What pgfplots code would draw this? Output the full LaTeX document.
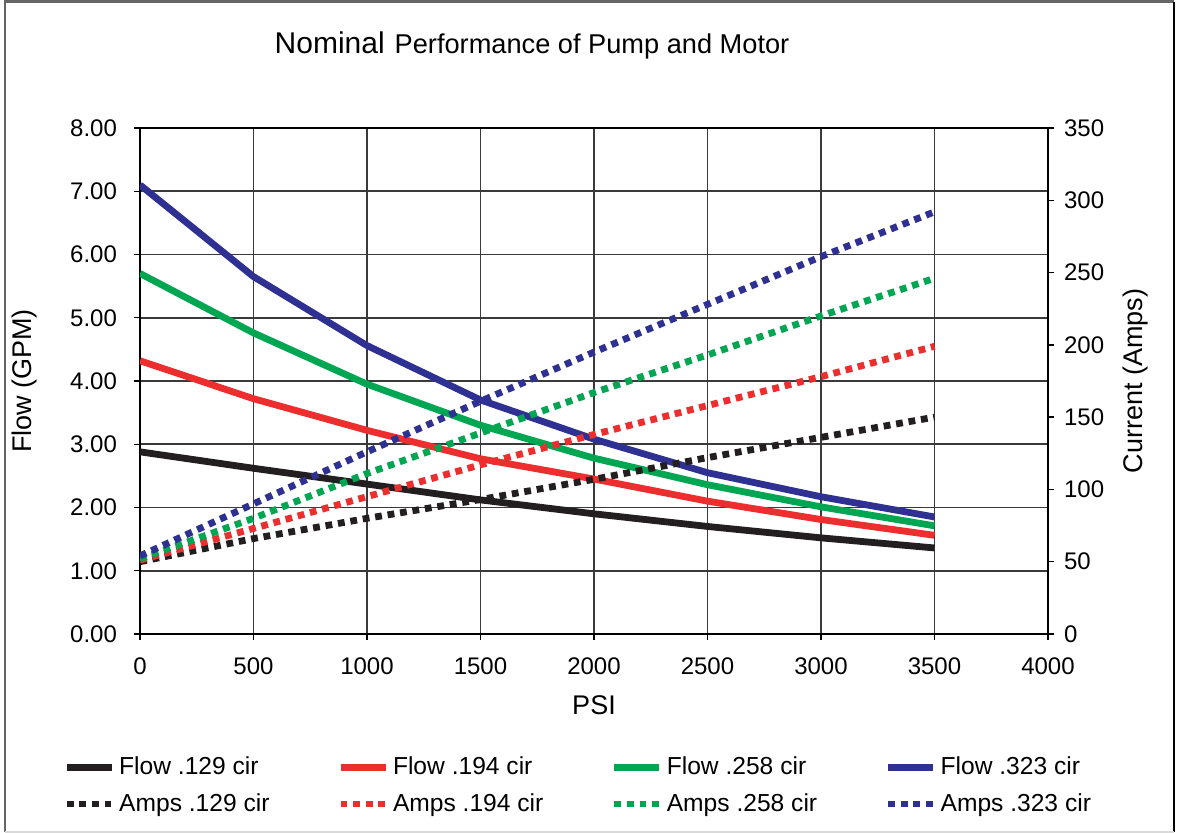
\documentclass[border=0pt]{standalone}
\usepackage{fontspec}
\setmainfont{Liberation Sans}
\usepackage{pgfplots}
\usepackage{pgfplotstable}
\pgfplotsset{compat=1.18}
\definecolor{cblack}{HTML}{231F20}
\definecolor{cred}{HTML}{ED2E2F}
\definecolor{cgreen}{HTML}{00A651}
\definecolor{cblue}{HTML}{2E3192}
\definecolor{gridc}{HTML}{3A3A3A}

\pgfplotstableread{
psi  f129 f194 f258 f323 a129 a194 a258 a323
0    2.88 4.32 5.70 7.10 50  51  52  54
500  2.62 3.72 4.76 5.65 66  73  80  90
1000 2.37 3.22 3.95 4.56 80  95  111 126
1500 2.12 2.77 3.30 3.70 93  117 139 161
2000 1.90 2.45 2.78 3.08 107 138 167 195
2500 1.70 2.10 2.36 2.55 122 158 193 228
3000 1.52 1.81 2.01 2.17 136 178 220 261
3500 1.36 1.56 1.71 1.85 150 199 246 292
}\data

\pgfplotsset{
  common/.style={
    at={(70pt,99.5pt)}, anchor=south west,
    scale only axis, width=454pt, height=253pt,
    xmin=0, xmax=4000,
    font=\fontsize{12}{14}\selectfont,
    /pgf/number format/assume math mode=true,
    /pgf/number format/1000 sep={},
    tick align=outside,
    major tick length=3pt,
    tick style={black, line width=0.7pt},
    axis line style={black, line width=0.8pt},
  },
  flow/.style={line width=3.4pt, no markers},
  amps/.style={line width=3.4pt, no markers, dash pattern=on 3.4pt off 2.9pt},
}

\begin{document}
\begin{tikzpicture}
\useasboundingbox (0,0) rectangle (589pt,416.5pt);
\draw[gray!80!black, line width=1.3pt] (2.5pt,0.5pt) -- (2.5pt,415.6pt) -- (587pt,415.6pt);
\draw[black, line width=1.2pt] (587pt,415.6pt) -- (587pt,0.5pt);
\draw[gray!30, line width=1.2pt] (2.5pt,0.6pt) -- (587pt,0.6pt);
\node[anchor=center] at (266pt,394pt)
  {{\fontsize{15}{17}\selectfont Nominal}\hspace{5pt}{\fontsize{13.6}{16}\selectfont Performance of Pump and Motor}};

\begin{axis}[common,
  ymin=0, ymax=8,
  xtick={0,500,...,4000},
  ytick={0,1,...,8},
  grid=major,
  grid style={gridc, line width=0.85pt},
  tick pos=left,
  yticklabel style={/pgf/number format/fixed, /pgf/number format/fixed zerofill, /pgf/number format/precision=2, xshift=-5pt},
  xticklabel style={yshift=-5.5pt},
  xlabel={PSI},
  ylabel={Flow (GPM)},
  label style={font=\fontsize{13.5}{15}\selectfont},
  xlabel style={at={(axis description cs:0.5,-0.1403)}, anchor=center},
  ylabel style={at={(axis description cs:-0.1267,0.5)}, anchor=center},
]
\addplot[flow, cblack] table[x=psi, y=f129]{\data};
\addplot[flow, cred]   table[x=psi, y=f194]{\data};
\addplot[flow, cgreen] table[x=psi, y=f258]{\data};
\addplot[flow, cblue]  table[x=psi, y=f323]{\data};
\end{axis}

\begin{axis}[common,
  ymin=0, ymax=350,
  ytick={0,50,...,350},
  axis y line*=right,
  axis x line=none,
  yticklabel style={xshift=1.5pt},
  ylabel={Current (Amps)},
  label style={font=\fontsize{13.5}{15}\selectfont},
  ylabel style={at={(axis description cs:1.0969,0.5)}, anchor=center},
  legend columns=4,
  legend cell align=left,
  legend image code/.code={\draw[#1] (0pt,0pt) -- (22.5pt,0pt);},
  legend style={draw=none, fill=none, at={(axis description cs:-0.0848,-0.226)}, anchor=north west,
    column sep=0pt, row sep=4pt, font=\fontsize{12.3}{14}\selectfont, inner xsep=0pt},
]
\addlegendimage{flow, cblack}\addlegendentry{\makebox[107pt][l]{Flow .129 cir}}
\addlegendimage{flow, cred}\addlegendentry{\makebox[107pt][l]{Flow .194 cir}}
\addlegendimage{flow, cgreen}\addlegendentry{\makebox[107pt][l]{Flow .258 cir}}
\addlegendimage{flow, cblue}\addlegendentry{Flow .323 cir}
\addplot[amps, cblack] table[x=psi, y=a129]{\data};
\addlegendentry{\makebox[107pt][l]{Amps .129 cir}}
\addplot[amps, cred]   table[x=psi, y=a194]{\data};
\addlegendentry{\makebox[107pt][l]{Amps .194 cir}}
\addplot[amps, cgreen] table[x=psi, y=a258]{\data};
\addlegendentry{\makebox[107pt][l]{Amps .258 cir}}
\addplot[amps, cblue]  table[x=psi, y=a323]{\data};
\addlegendentry{Amps .323 cir}
\end{axis}
\end{tikzpicture}
\end{document}
